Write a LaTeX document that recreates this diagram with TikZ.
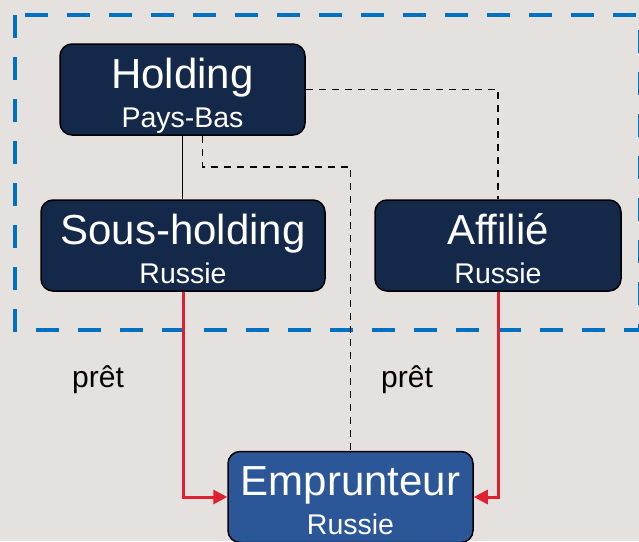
\documentclass[tikz,border=0pt]{standalone}
\usepackage{fontspec}
\setmainfont{Liberation Sans}
\usepackage{tikz}
\usetikzlibrary{arrows.meta}

\definecolor{fond}{HTML}{E4E1DE}
\definecolor{marine}{HTML}{14284A}
\definecolor{bleuboite}{HTML}{2B5798}
\definecolor{bleutrait}{HTML}{0070C0}
\definecolor{rouge}{HTML}{E0202E}

\newcommand{\grand}{\fontsize{42}{44}\selectfont}
\newcommand{\petit}{\fontsize{28.5}{30}\selectfont}
\newcommand{\ent}[2]{{\grand\rule[-8pt]{0pt}{44pt}\smash{#1}}\\{\petit\rule{0pt}{30pt}\smash{#2}}}

\begin{document}
\begin{tikzpicture}[x=1pt,y=-1pt,
                    entite/.style={draw=black,line width=1.5pt,fill=marine,text=white,
                                   rounded corners=12pt,align=center,
                                   minimum width=245pt,minimum height=91pt,inner sep=0pt},
                    lien/.style={draw=black,line width=1.5pt,dash pattern=on 7pt off 6pt},
                    pret/.style={->,>={Triangle[length=14pt,width=14pt]},draw=rouge,line width=3pt},
                    etiq/.style={font=\fontsize{30}{30}\selectfont,anchor=base}]

  \useasboundingbox[fill=fond] (0,0) rectangle (639,541);

  \draw[bleutrait,line width=4.5pt,dash pattern=on 23pt off 19pt]
    (15,15) -- (15,330) -- (640.5,330) -- (640.5,15) -- cycle;

  \node[entite]                     (hold) at (182.5,89.5) {\ent{Holding}{Pays-Bas}};
  \node[entite,minimum width=284pt] (sous) at (183,245.5)  {\ent{Sous-holding}{Russie}};
  \node[entite,minimum width=246pt] (aff)  at (498,245.5)  {\ent{Affilié}{Russie}};
  \node[entite,fill=bleuboite]      (empr) at (350.5,497)  {\ent{Emprunteur}{Russie}};

  \node[etiq] (pret1) at (98,387)  {prêt};
  \node[etiq] (pret2) at (407,387) {prêt};

  \draw[line width=1.5pt] (hold.south) -- (hold.south |- sous.north);
  \draw[lien] (hold.east) -| (aff.north);
  \draw[lien] ([xshift=20pt]hold.south) -- ++(0,31) -| (empr.north);

  \draw[pret] (sous.south) |- (empr.west);
  \draw[pret] (aff.south) |- (empr.east);
\end{tikzpicture}
\end{document}
